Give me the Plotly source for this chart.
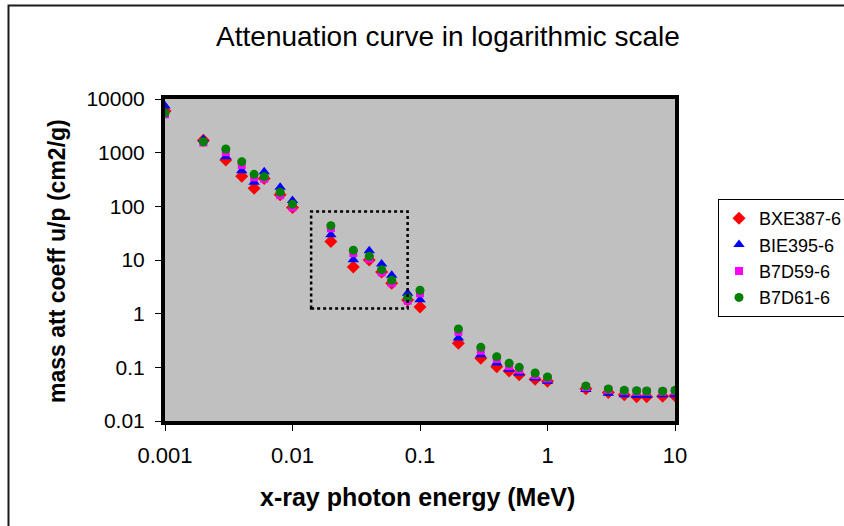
import plotly.graph_objects as go

energy = [0.001, 0.002, 0.003, 0.004, 0.005, 0.006, 0.008, 0.01, 0.02, 0.03,
          0.04, 0.05, 0.06, 0.08, 0.1, 0.2, 0.3, 0.4, 0.5, 0.6, 0.8, 1,
          2, 3, 4, 5, 6, 8, 10]

bxe387 = [6000, 1700, 730, 363, 218, 330, 165, 95, 22, 7.4, 10, 6, 3.7, 1.8,
          1.33, 0.28, 0.148, 0.103, 0.085, 0.073, 0.06, 0.055, 0.04, 0.034,
          0.031, 0.0283, 0.0283, 0.029, 0.0296]
bie395 = [7400, 1750, 840, 460, 280, 443, 226, 129, 29.5, 10.1, 14.9, 8.4,
          5.2, 2.4, 1.82, 0.352, 0.172, 0.12, 0.092, 0.0785, 0.063, 0.055,
          0.0385, 0.033, 0.031, 0.03, 0.03, 0.031, 0.031]
b7d59 = [5200, 1550, 1020, 590, 348, 325, 162, 96, 39, 13.5, 10.5, 5.9, 3.7,
         1.74, 2.4, 0.46, 0.204, 0.143, 0.105, 0.09, 0.072, 0.062, 0.043,
         0.038, 0.036, 0.035, 0.035, 0.035, 0.036]
b7d61 = [5500, 1600, 1170, 680, 395, 357, 183, 109, 43.6, 15.2, 11.7, 6.6,
         4.2, 1.99, 2.73, 0.52, 0.236, 0.158, 0.119, 0.1, 0.0785, 0.066, 0.045,
         0.0396, 0.0373, 0.0367, 0.0362, 0.036, 0.0373]

series_names = ["BXE387-6", "BIE395-6", "B7D59-6", "B7D61-6"]
x_ticks = [0.001, 0.01, 0.1, 1, 10]
x_tick_labels = ["0.001", "0.01", "0.1", "1", "10"]
y_ticks = [0.01, 0.1, 1, 10, 100, 1000, 10000]
y_tick_labels = ["0.01", "0.1", "1", "10", "100", "1000", "10000"]

# highlighted region (data coords)
box_x = [0.014, 0.08]
box_y = [1.25, 80]

FONT = "Liberation Sans, Arial, sans-serif"

styles = [
    dict(symbol="diamond", color="#FF0000", size=10),
    dict(symbol="triangle-up", color="#0000FF", size=10),
    dict(symbol="square", color="#FF00FF", size=8),
    dict(symbol="circle", color="#008000", size=9),
]

fig = go.Figure()
for name, ys, st in zip(series_names, [bxe387, bie395, b7d59, b7d61], styles):
    fig.add_trace(go.Scatter(
        x=energy, y=ys, mode="markers", name=name, legendgroup=name,
        marker=dict(symbol=st["symbol"], color=st["color"], size=st["size"],
                    line=dict(width=0)),
    ))

L, R, T, B = 165, 169, 99, 105
W, H = 844, 526
pw, ph = W - L - R, H - T - B

def px_x(p):
    return (p - L) / pw

def px_y(p):
    return (H - B - p) / ph

fig.update_layout(
    width=W, height=H,
    margin=dict(l=L, r=R, t=T, b=B, pad=0, autoexpand=False),
    paper_bgcolor="white",
    plot_bgcolor="#C0C0C0",
    font=dict(family=FONT, color="black"),
    title=dict(text="Attenuation curve in logarithmic scale",
               x=448 / W, xanchor="center", y=1 - 36 / H, yanchor="middle",
               font=dict(size=28, family=FONT, color="black")),
    showlegend=True,
    legend=dict(xref="container", yref="container",
                x=718 / W, xanchor="left", y=1 - 199 / H, yanchor="top",
                bgcolor="white", bordercolor="black", borderwidth=1,
                font=dict(size=18, family=FONT, color="black"),
                itemsizing="trace", tracegroupgap=0),
    xaxis=dict(type="log", range=[-3, 1], tickvals=x_ticks,
               ticktext=x_tick_labels, showgrid=False, zeroline=False,
               showline=True, linecolor="black", linewidth=4, mirror=True,
               ticks="outside", ticklen=6, tickcolor="black", tickwidth=1,
               ticklabelstandoff=6,
               tickfont=dict(size=22, family=FONT, color="black")),
    yaxis=dict(type="log", range=[-2, 4], tickvals=y_ticks,
               ticktext=y_tick_labels, showgrid=False, zeroline=False,
               showline=True, linecolor="black", linewidth=4, mirror=True,
               ticks="outside", ticklen=6, tickcolor="black", tickwidth=1,
               ticklabelstandoff=6,
               tickfont=dict(size=21, family=FONT, color="black")),
)

fig.add_shape(type="rect", xref="x", yref="y",
              x0=box_x[0], x1=box_x[1], y0=box_y[0], y1=box_y[1],
              line=dict(color="black", width=2.5, dash="dot"))

# outer chart border
fig.add_shape(type="rect", xref="paper", yref="paper",
              x0=px_x(8.5), x1=px_x(900), y0=px_y(5.5), y1=px_y(600),
              line=dict(color="#1a1a1a", width=2))

fig.add_annotation(text="<b>x-ray photon energy (MeV)</b>", xref="paper",
                   yref="paper", x=px_x(417), y=px_y(497), xanchor="center",
                   yanchor="middle", showarrow=False,
                   font=dict(size=25, family=FONT, color="black"))
fig.add_annotation(text="<b>mass att coeff u/p (cm2/g)</b>", xref="paper",
                   yref="paper", x=px_x(57), y=px_y(261), xanchor="center",
                   yanchor="middle", showarrow=False, textangle=-90,
                   font=dict(size=23, family=FONT, color="black"))

fig.write_html("out.html")
